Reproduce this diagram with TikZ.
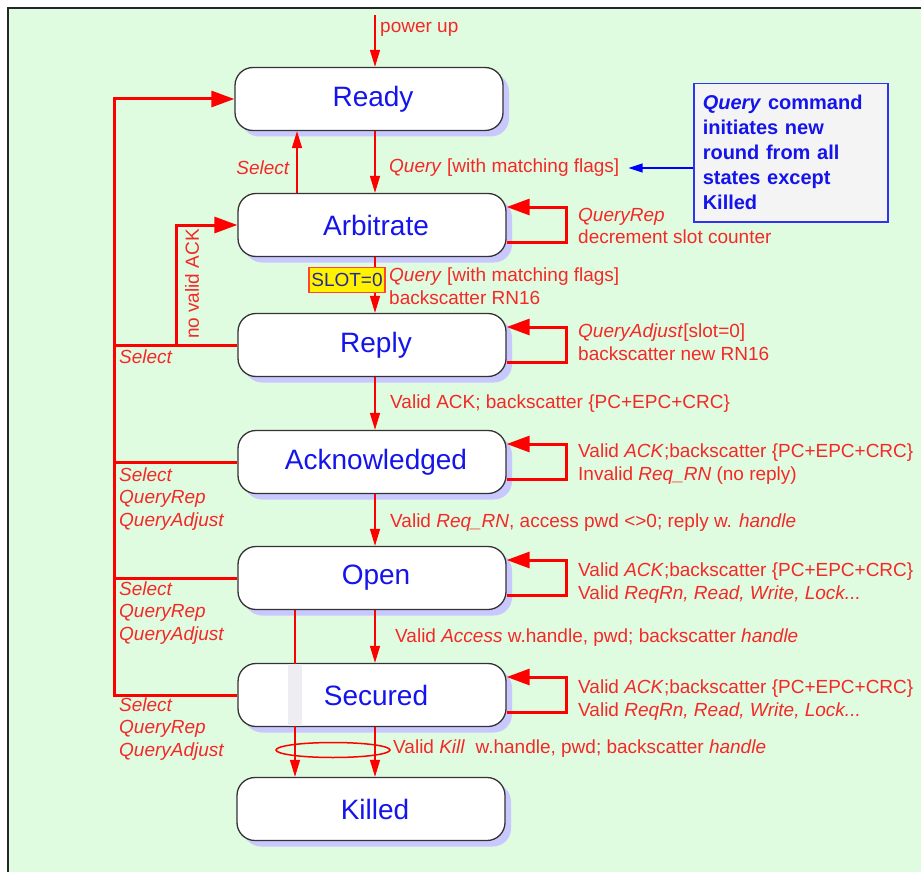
\documentclass[tikz,border=0pt]{standalone}
\usepackage{fontspec}
\setmainfont{Liberation Sans}
\usetikzlibrary{arrows.meta,shadows,calc}

\definecolor{bggreen}{RGB}{224,252,224}
\definecolor{lred}{RGB}{245,40,40}
\definecolor{sblue}{RGB}{20,20,235}
\definecolor{shadowblue}{RGB}{200,200,255}
\definecolor{notefill}{RGB}{244,244,244}
\definecolor{noteblue}{RGB}{50,50,240}
\definecolor{slotborder}{RGB}{255,70,40}
\definecolor{slottext}{RGB}{40,40,150}
\definecolor{stripgray}{RGB}{238,238,242}

\tikzset{
  state/.style={draw=black!80, line width=1.3pt, fill=white, rounded corners=18pt,
    minimum width=268pt, minimum height=63pt, font=\fontsize{28}{30}\selectfont, text=sblue,
    execute at begin node={\hspace*{8pt}},
    drop shadow={shadow xshift=6pt, shadow yshift=-6pt, fill=shadowblue, opacity=1}},
  lbl/.style={text=lred, font=\fontsize{19}{22.5}\selectfont, inner sep=0pt, align=left},
  thinline/.style={draw=red, line width=1.5pt},
  thinarrow/.style={thinline, -{Triangle[width=10pt,length=17pt]}},
  thickline/.style={draw=red, line width=3pt},
  thickarrow/.style={thickline, -{Triangle[width=16pt,length=23pt]}},
  notebox/.style={draw=noteblue, line width=1.5pt, fill=notefill, anchor=north west,
    minimum width=194pt, minimum height=138pt, text=sblue,
    font=\bfseries\fontsize{20}{25}\selectfont, align=left, text width=176pt, inner xsep=9pt},
  slotbox/.style={draw=slotborder, fill=yellow, line width=1.5pt, inner xsep=2.5pt, inner ysep=0pt,
    minimum height=25pt, font=\fontsize{19}{22}\selectfont, text=slottext},
}

\begin{document}
\begin{tikzpicture}[x=1pt,y=-1pt]
\useasboundingbox (0,0) rectangle (921,872);
\fill[bggreen] (8,8) rectangle (921,872);
\draw[black!85, line width=2pt] (8,872) -- (8,8) -- (921,8);

% states
\node[state] (ready) at (369,99) {Ready};
\node[state] (arb) at (372,225) {Arbitrate};
\node[state] (reply) at (372,345) {Reply};
\node[state] (ack) at (372,462) {Acknowledged};
\node[state] (open) at (372,578) {Open};
\node[state] (sec) at (372,695) {Secured};
\node[state] (killed) at (371,809) {Killed};

% helper columns
\coordinate (c) at (375,0);
\coordinate (sx) at (297,0);
\coordinate (kx) at (295,0);
\coordinate (bx) at (114,0);
\coordinate (nx) at (176,0);
\coordinate (pu) at (375,15);

% power up
\draw[thinarrow] (pu) -- (pu |- ready.north);
\node[lbl, anchor=west] (lpu) at (380,29) {power up};

% Ready <-> Arbitrate
\draw[thinarrow] (ready.south -| c) -- (arb.north -| c);
\draw[thinarrow] (arb.north -| sx) -- (ready.south -| sx);
\node[lbl, anchor=west] (q1) at (389,168) {\textit{Query} [with matching flags]};
\node[lbl, anchor=east] (lsel) at (290,168) {\textit{Select}};

% note
\node[notebox] (note) at (693,83) {\textit{Query} command\\initiates new\\round from all\\states except\\Killed};
\draw[blue, line width=1.2pt, -{Triangle[width=9pt,length=14pt]}] (note.west |- q1.east) -- ([xshift=9pt]q1.east);

% Arbitrate -> Reply
\draw[thinarrow] (arb.south -| c) -- (reply.north -| c);
\node[slotbox] (slot) at (347,280) {SLOT=0};
\node[lbl, anchor=west] (q2) at (389,286) {\textit{Query} [with matching flags]\\backscatter RN16};

% Reply -> Ack
\draw[thinarrow] (reply.south -| c) -- (ack.north -| c);
\node[lbl, anchor=west] (l3) at (390,404) {Valid ACK; backscatter \{PC+EPC+CRC\}};

% Ack -> Open
\draw[thinarrow] (ack.south -| c) -- (open.north -| c);
\node[lbl, anchor=west] (l4) at (390,523) {Valid \textit{Req\_RN}, access pwd <>0; reply w. \textit{handle}};

% Open -> Secured
\draw[thinarrow] (open.south -| c) -- (sec.north -| c);
\node[lbl, anchor=west] (l5) at (395,638) {Valid \textit{Access} w.handle, pwd; backscatter \textit{handle}};

% Kill transitions
\draw[thinarrow] (open.south -| kx) -- (killed.north -| kx);
\path (sec.north -| kx) ++(-7,1.5) coordinate (s1);
\path (sec.south -| kx) ++(7,-1.5) coordinate (s2);
\fill[stripgray] (s1) rectangle (s2);
\draw[thinarrow] (sec.south -| c) -- (killed.north -| c);
\draw[red, line width=1.5pt] (333,750) ellipse [x radius=57, y radius=7.5];
\node[lbl, anchor=west] (l6) at (393,749) {Valid \textit{Kill}\ \ w.handle, pwd; backscatter \textit{handle}};

% self loops
\foreach \n in {arb,reply,ack,open,sec}{
  \draw[thickarrow] ($(\n.east)+(0,17)$) -- ++(60,0) -- ++(0,-35) -- ($(\n.east)+(0,-18)$);
}
\node[lbl, anchor=west] (la) at (578,226) {\textit{QueryRep}\\decrement slot counter};
\node[lbl, anchor=west] (lr) at (578,342) {\textit{QueryAdjust}[slot=0]\\backscatter new RN16};
\node[lbl, anchor=west] (lk) at (578,464) {Valid \textit{ACK};backscatter \{PC+EPC+CRC\}\\Invalid \textit{Req\_RN} (no reply)};
\node[lbl, anchor=west] (lo) at (578,583) {Valid \textit{ACK};backscatter \{PC+EPC+CRC\}\\Valid \textit{ReqRn, Read, Write, Lock...}};
\node[lbl, anchor=west] (ls) at (578,700) {Valid \textit{ACK};backscatter \{PC+EPC+CRC\}\\Valid \textit{ReqRn, Read, Write, Lock...}};

% left bus
\draw[thickarrow] (sec.west) -- (sec.west -| bx) |- (ready.west);
\draw[thickline] (reply.west) -- (reply.west -| bx);
\draw[thickline] (ack.west) -- (ack.west -| bx);
\draw[thickline] (open.west) -- (open.west -| bx);
\draw[thickarrow] (reply.west -| nx) |- (arb.west);
\node[lbl, rotate=90] (nv) at (192,284) {no valid ACK};

\node[lbl, anchor=west] (b1) at (119,357) {\textit{Select}};
\node[lbl, anchor=west] (b2) at (119,499) {\textit{Select}\\\textit{QueryRep}\\\textit{QueryAdjust}};
\node[lbl, anchor=west] (b3) at (119,613) {\textit{Select}\\\textit{QueryRep}\\\textit{QueryAdjust}};
\node[lbl, anchor=west] (b4) at (119,729) {\textit{Select}\\\textit{QueryRep}\\\textit{QueryAdjust}};
\end{tikzpicture}
\end{document}
